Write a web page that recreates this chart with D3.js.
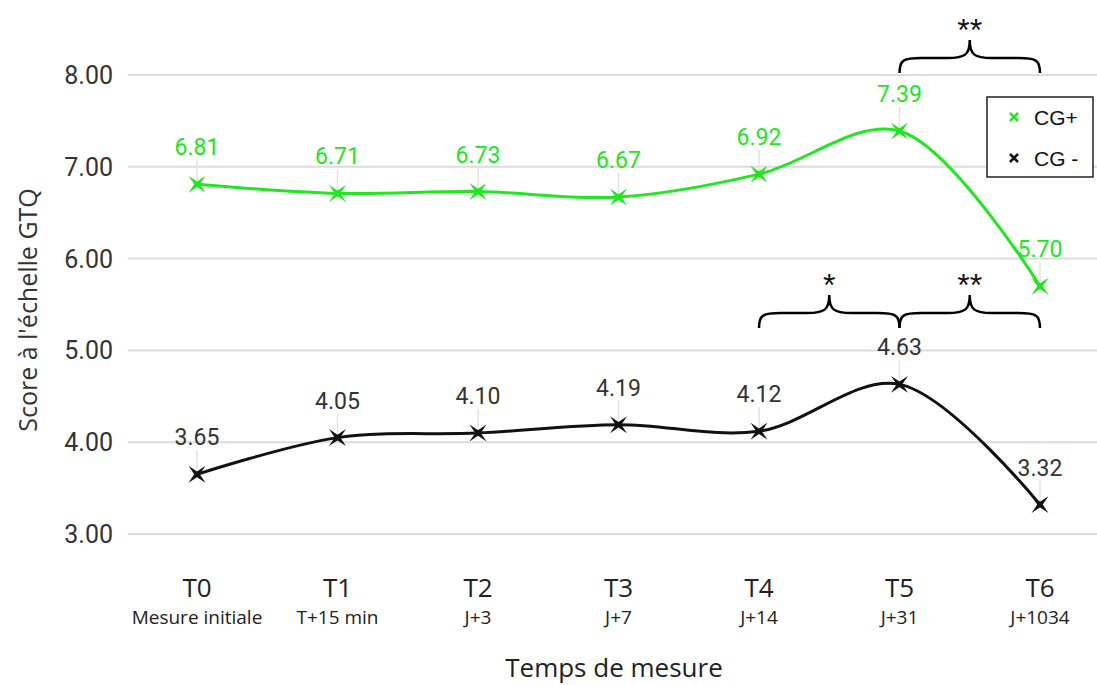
<!DOCTYPE html>
<html>
<head>
<meta charset="utf-8">
<script src="https://cdn.jsdelivr.net/npm/d3@7"></script>
<style>
  body { margin: 0; background: #fff; }
  svg { display: block; }
</style>
</head>
<body>
<svg id="chart" width="1097" height="685"></svg>
<script>
// data
const times = ["T0", "T1", "T2", "T3", "T4", "T5", "T6"]
const timeLabels = ["Mesure initiale", "T+15 min", "J+3", "J+7", "J+14", "J+31", "J+1034"]
const cgPlus = [6.81, 6.71, 6.73, 6.67, 6.92, 7.39, 5.70]
const cgMinus = [3.65, 4.05, 4.10, 4.19, 4.12, 4.63, 3.32]
const yTicks = [3, 4, 5, 6, 7, 8]
const seriesNames = ["CG+", "CG -"]
const braces = [
    { from: "T5", to: "T6", label: "**", row: "top" },
    { from: "T4", to: "T5", label: "*", row: "low" },
    { from: "T5", to: "T6", label: "**", row: "low" }
]

const green = "#22e622"
const black = "#111"

let svg = d3.select("#chart")

let xScale = d3.scalePoint()
    .domain(times)
    .range([197, 1040])

let yScale = d3.scaleLinear()
    .domain([3, 8])
    .range([534, 75])

// grid lines
svg.append("g")
    .selectAll("line")
    .data(yTicks)
    .enter().append("line")
        .attr("x1", 128)
        .attr("x2", 1097)
        .attr("y1", d => yScale(d))
        .attr("y2", d => yScale(d))
        .style("stroke", "#dcdcdc")
        .style("stroke-width", 2)

// y tick labels
svg.append("g")
    .selectAll("text")
    .data(yTicks)
    .enter().append("text")
        .attr("x", 113)
        .attr("y", d => yScale(d))
        .attr("dy", "0.36em")
        .style("text-anchor", "end")
        .style("font-family", "Roboto, sans-serif")
        .style("font-size", "25px")
        .style("fill", "#333")
        .text(d => d.toFixed(2))

svg.append("text")
    .attr("transform", "translate(37,310) rotate(-90)")
    .style("text-anchor", "middle")
    .style("font-family", "'Open Sans', sans-serif")
    .style("font-size", "25px")
    .style("fill", "#333")
    .text("Score à l'échelle GTQ")

// x tick labels
let xt = svg.append("g")
xt.selectAll("text.t")
    .data(times)
    .enter().append("text")
        .attr("class", "t")
        .attr("x", d => xScale(d))
        .attr("y", 597)
        .style("text-anchor", "middle")
        .style("font-family", "'Open Sans', sans-serif")
        .style("font-size", "26px")
        .style("fill", "#222")
        .text(d => d)
xt.selectAll("text.s")
    .data(timeLabels)
    .enter().append("text")
        .attr("class", "s")
        .attr("x", (d, i) => xScale(times[i]))
        .attr("y", 624)
        .style("text-anchor", "middle")
        .style("font-family", "'Open Sans', sans-serif")
        .style("font-size", "19px")
        .style("fill", "#222")
        .text(d => d)

svg.append("text")
    .attr("x", 614)
    .attr("y", 677)
    .style("text-anchor", "middle")
    .style("font-family", "'Open Sans', sans-serif")
    .style("font-size", "26px")
    .style("fill", "#222")
    .text("Temps de mesure")

// star-like cross marker
function crossStar(r, ri) {
    let pts = []
    for (let k = 0; k < 8; k++) {
        let a = Math.PI / 4 + k * Math.PI / 4
        let rr = k % 2 === 0 ? r : ri
        pts.push([rr * Math.cos(a), rr * Math.sin(a)])
    }
    return "M" + pts.map(p => p[0].toFixed(2) + "," + p[1].toFixed(2)).join("L") + "Z"
}

let line = d3.line()
    .x((d, i) => xScale(times[i]))
    .y(d => yScale(d))
    .curve(d3.curveCatmullRom.alpha(0.5))

function drawSeries(values, color, labelColor) {
    let g = svg.append("g")
    // leader lines
    g.selectAll("line")
        .data(values)
        .enter().append("line")
            .attr("x1", (d, i) => xScale(times[i]))
            .attr("x2", (d, i) => xScale(times[i]))
            .attr("y1", d => yScale(d) - 24)
            .attr("y2", d => yScale(d))
            .style("stroke", "#e2e2e2")
            .style("stroke-width", 1.5)
    g.append("path")
        .datum(values)
        .attr("d", line)
        .style("fill", "none")
        .style("stroke", color)
        .style("stroke-width", 3)
    g.selectAll("path.m")
        .data(values)
        .enter().append("path")
            .attr("class", "m")
            .attr("d", crossStar(12, 2.8))
            .attr("transform", (d, i) => "translate(" + xScale(times[i]) + "," + yScale(d) + ")")
            .style("fill", color)
    g.selectAll("text")
        .data(values)
        .enter().append("text")
            .attr("x", (d, i) => xScale(times[i]))
            .attr("y", d => yScale(d) - 29)
            .style("text-anchor", "middle")
            .style("font-family", "Roboto, sans-serif")
            .style("font-size", "23px")
            .style("fill", labelColor)
            .text(d => d.toFixed(2))
}

drawSeries(cgPlus, green, green)
drawSeries(cgMinus, black, "#333")

// significance braces
function bracePath(x1, x2, yb, r) {
    let xm = (x1 + x2) / 2
    let yh = yb - 15
    let yp = yb - 33
    return "M" + x1 + "," + yb +
        "C" + x1 + "," + (yh + 2) + " " + (x1 + 4) + "," + yh + " " + (x1 + r) + "," + yh +
        "L" + (xm - r) + "," + yh +
        "C" + (xm - 5) + "," + yh + " " + xm + "," + (yh - 3) + " " + xm + "," + yp +
        "C" + xm + "," + (yh - 3) + " " + (xm + 5) + "," + yh + " " + (xm + r) + "," + yh +
        "L" + (x2 - r) + "," + yh +
        "C" + (x2 - 4) + "," + yh + " " + x2 + "," + (yh + 2) + " " + x2 + "," + yb
}

let braceRows = { top: 73, low: 328 }
let bg = svg.append("g")
braces.forEach(b => {
    let x1 = xScale(b.from)
    let x2 = xScale(b.to)
    let yb = braceRows[b.row]
    bg.append("path")
        .attr("d", bracePath(x1, x2, yb, 22))
        .style("fill", "none")
        .style("stroke", "#000")
        .style("stroke-width", 2.5)
    bg.append("text")
        .attr("x", (x1 + x2) / 2)
        .attr("y", yb - 32)
        .style("text-anchor", "middle")
        .style("font-family", "'Liberation Sans', Arial, sans-serif")
        .style("font-size", "32px")
        .style("fill", "#111")
        .text(b.label)
})

// legend
let legend = svg.append("g")
legend.append("rect")
    .attr("x", 987)
    .attr("y", 97)
    .attr("width", 106)
    .attr("height", 80)
    .style("fill", "#fff")
    .style("stroke", "#222")
    .style("stroke-width", 1.5)
let items = legend.selectAll("g.item")
    .data(seriesNames)
    .enter().append("g")
        .attr("class", "item")
        .attr("transform", (d, i) => "translate(1014," + (117 + i * 41) + ")")
items.append("path")
    .attr("d", "M-4,-4L4,4M-4,4L4,-4")
    .style("stroke", (d, i) => i === 0 ? green : black)
    .style("stroke-width", 2.5)
items.append("text")
    .attr("x", 20)
    .attr("dy", "0.36em")
    .style("font-family", "'Liberation Sans', Arial, sans-serif")
    .style("font-size", "21px")
    .style("fill", "#111")
    .text(d => d)
</script>
</body>
</html>
